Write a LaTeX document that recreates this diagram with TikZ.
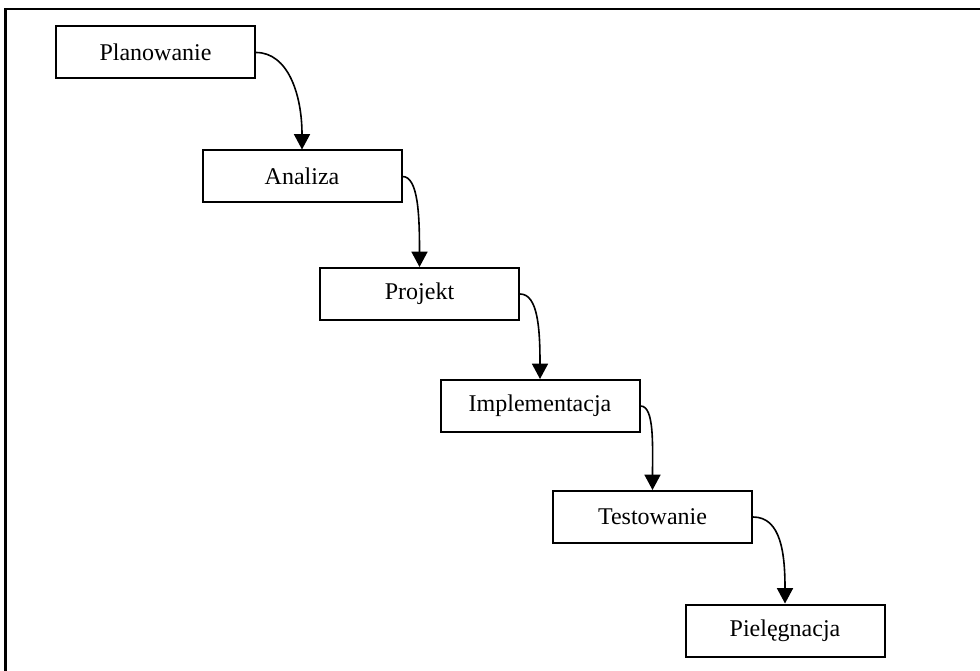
\documentclass[tikz,border=0pt]{standalone}
\usepackage{fontspec}
\setmainfont{Liberation Serif}
\usetikzlibrary{arrows.meta}
\begin{document}
\begin{tikzpicture}[x=0.75pt,y=-0.75pt,
  stagebox/.style={draw=black,line width=1.5pt,minimum width=149.25pt,minimum height=39pt,inner sep=0pt,
    font=\fontsize{18}{22}\selectfont},
  flow/.style={line width=1.2pt,-{Triangle[length=11.5pt,width=12pt]}}]
\path[use as bounding box] (0,0) rectangle (980,670);
\draw[line width=1.6pt] (5.5,672) -- (5.5,9) -- (982,9);
\node[stagebox] (plan) at (155.5,52.5) {Planowanie};
\node[stagebox] (anal) at (302,176.5) {Analiza};
\node[stagebox] (proj) at (419.5,294) {Projekt};
\node[stagebox] (impl) at (540,406) {Implementacja};
\node[stagebox] (test) at (652.5,517) {Testowanie};
\node[stagebox] (piel) at (785,630.5) {Pielęgnacja};
\draw[flow] (plan.east) .. controls +(32,0) and +(0,-55) .. (anal.north);
\draw[flow] (anal.east) .. controls +(16,0) and +(0,-50) .. (proj.north);
\draw[flow] (proj.east) .. controls +(18,0) and +(0,-50) .. (impl.north);
\draw[flow] (impl.east) .. controls +(14,0) and +(0,-45) .. (test.north);
\draw[flow] (test.east) .. controls +(28,0) and +(0,-50) .. (piel.north);
\end{tikzpicture}
\end{document}
